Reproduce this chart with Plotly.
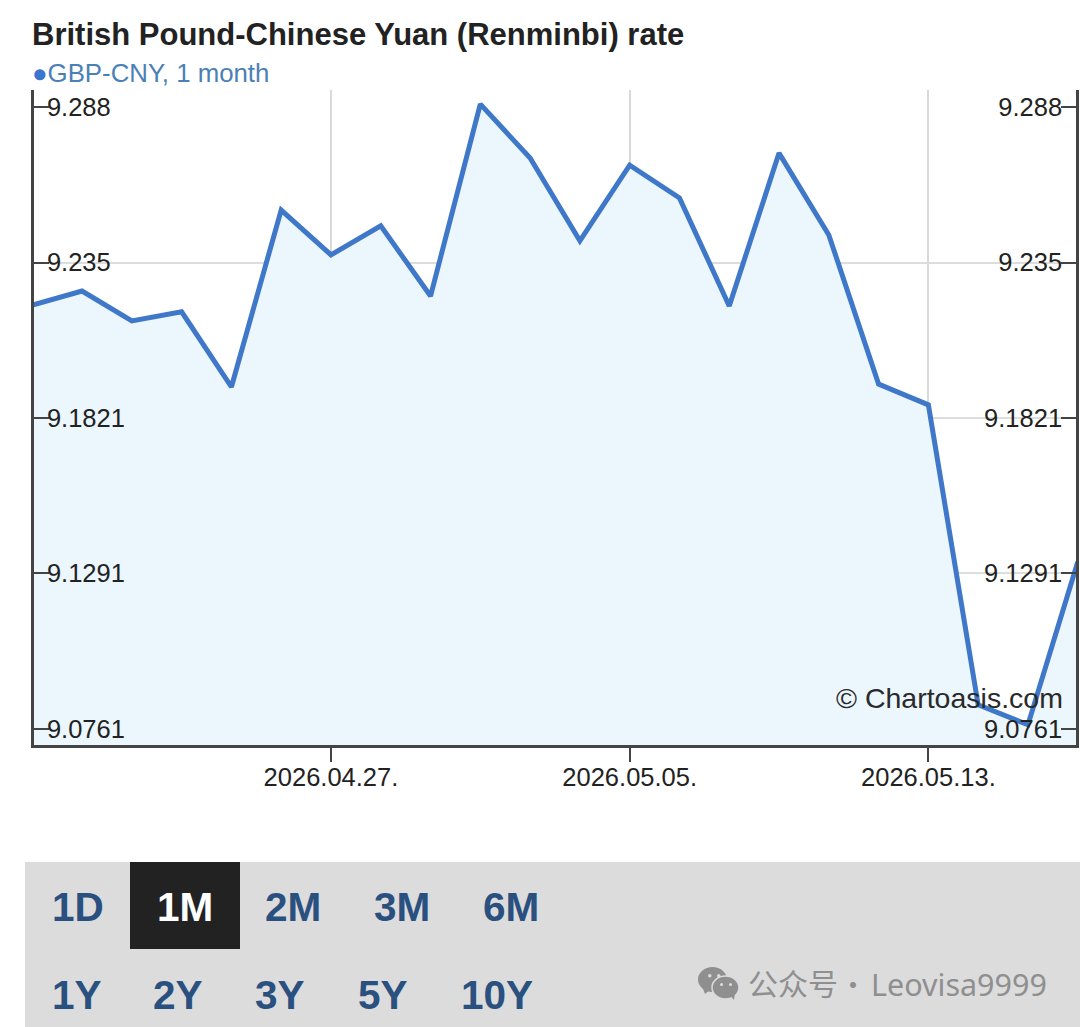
import plotly.graph_objects as go

dates = ["04.17","04.20","04.21","04.22","04.23","04.24","04.27","04.28","04.29","04.30","05.01",
         "05.04","05.05","05.06","05.07","05.08","05.11","05.12","05.13","05.14","05.15","05.18"]
rates = [9.2205,9.2253,9.2151,9.2182,9.1926,9.2529,9.2376,9.2475,9.2236,9.2890,9.2706,
         9.2424,9.2682,9.2570,9.2202,9.2723,9.2444,9.1936,9.1865,9.0843,9.0775,9.1330]
y_ticks = [9.288, 9.235, 9.1821, 9.1291, 9.0761]
y_labels = ["9.288", "9.235", "9.1821", "9.1291", "9.0761"]
grid_ticks = [9.235, 9.1821, 9.1291, 9.0761]
x_ticks = ["04.27", "05.05", "05.13"]
x_labels = ["2026.04.27.", "2026.05.05.", "2026.05.13."]
row1 = ["1D", "1M", "2M", "3M", "6M"]
row2 = ["1Y", "2Y", "3Y", "5Y", "10Y"]

FONT = "Liberation Sans"
CJK = "Noto Sans CJK SC"
L, R, T, B = 34, 1076, 90, 745
Y_RANGE = [9.0706, 9.2938]
def px(x): return (x - L) / (R - L)
def py(y): return (B - y) / (B - T)

fig = go.Figure()
fig.add_trace(go.Scatter(x=dates, y=rates, mode="lines", fill="tozeroy", fillcolor="#ebf6fd",
                         line=dict(color="#3f78c8", width=5, shape="linear"), hoverinfo="skip", showlegend=False))
for axis in ("y2", "y3"):
    fig.add_trace(go.Scatter(x=dates, y=rates, yaxis=axis, mode="lines", opacity=0,
                             line=dict(width=0), hoverinfo="skip", showlegend=False))

tick_font = dict(family=FONT, size=25.5, color="#222222")
common_y = dict(range=Y_RANGE, tickmode="array", tickvals=y_ticks, ticktext=y_labels,
                ticks="inside", ticklen=15, tickwidth=2, tickcolor="#444444",
                ticklabelposition="inside", tickfont=tick_font, showgrid=False,
                showline=True, linecolor="#444444", linewidth=3, zeroline=False)

def text(x, y, s, size, color, bold=False, anchor="left", family=FONT):
    fig.add_annotation(xref="paper", yref="paper", x=px(x), y=py(y), text=f"<b>{s}</b>" if bold else s,
                       showarrow=False, xanchor=anchor, yanchor="middle",
                       font=dict(family=family, size=size, color=color), borderpad=0, borderwidth=0)

def circle(x0, x1, y0, y1, fill, line=None):
    return dict(type="circle", xref="paper", yref="paper", x0=px(x0), x1=px(x1), y0=py(y1), y1=py(y0),
                fillcolor=fill, line=line or dict(width=0))

def tri(pts, fill):
    d = "M " + " L ".join(f"{px(a)} {py(b)}" for a, b in pts) + " Z"
    return dict(type="path", xref="paper", yref="paper", path=d, fillcolor=fill, line=dict(width=0))

PANEL = "#dcdcdc"
ICON = "#8f8f8f"
shapes = [
    dict(type="rect", xref="paper", yref="paper", x0=px(25), x1=px(1085), y0=py(1030), y1=py(862),
         fillcolor=PANEL, line=dict(width=0), layer="below"),
    dict(type="rect", xref="paper", yref="paper", x0=px(130), x1=px(240), y0=py(949), y1=py(862),
         fillcolor="#222222", line=dict(width=0), layer="below"),
    tri([(702, 986), (705, 994), (711, 989)], ICON),
    circle(698, 727, 967, 992, ICON),
    circle(708, 711.5, 974, 977.5, PANEL),
    circle(717, 720.5, 974, 977.5, PANEL),
    circle(712, 739, 976, 999, ICON, dict(color=PANEL, width=1.5)),
    tri([(729, 994), (734, 1000), (735, 992)], ICON),
    circle(720, 723, 983, 986, PANEL),
    circle(729, 732, 983, 986, PANEL),
]
fig.update_layout(
    width=1080, height=1027, autosize=False,
    margin=dict(l=L, r=1080 - R, t=T, b=1027 - B),
    paper_bgcolor="white", plot_bgcolor="white", hovermode=False, showlegend=False,
    shapes=shapes,
    xaxis=dict(type="category", categoryorder="array", categoryarray=dates, range=[0.035, 20.965],
               tickmode="array", tickvals=x_ticks, ticktext=x_labels,
               ticks="outside", ticklen=14, tickwidth=2, tickcolor="#444444", tickfont=tick_font,
               ticklabelstandoff=-7,
               showgrid=True, gridcolor="#d9d9d9", gridwidth=2,
               showline=True, linecolor="#444444", linewidth=3, zeroline=False),
    yaxis=dict(side="left", ticklabelstandoff=0, **common_y),
    yaxis2=dict(side="right", overlaying="y", anchor="x", ticklabelstandoff=1, **common_y),
    yaxis3=dict(side="left", overlaying="y", anchor="x", range=Y_RANGE, tickmode="array", tickvals=grid_ticks,
                showticklabels=False, ticks="", showline=False, zeroline=False,
                showgrid=True, gridcolor="#dddddd", gridwidth=2),
)

text(32, 35, "British Pound-Chinese Yuan (Renminbi) rate", 31, "#222222", bold=True)
text(32, 73, "<span style='color:#3a75d0'>●</span>GBP-CNY, 1 month", 25.8, "#4a80b8")
text(1063, 698, "© Chartoasis.com", 28.5, "#2a2a2a", anchor="right")

row1_x = [78, 185, 293, 402, 511]
row2_x = [77, 178, 280, 383, 497]
for s, x in zip(row1, row1_x):
    text(x, 907, s, 40.5, "#ffffff" if s == "1M" else "#2a5080", bold=True, anchor="center")
for s, x in zip(row2, row2_x):
    text(x, 995, s, 40.5, "#2a5080", bold=True, anchor="center")
text(748, 982, "公众号", 30, ICON, family=CJK)
text(853, 984, "·", 28, ICON, anchor="center", family=CJK)
text(871, 984, "Leovisa9999", 30.5, ICON, family="Noto Sans")

fig.write_html("out.html", config=dict(displayModeBar=False),
               post_script="document.body.style.margin='0';document.documentElement.style.overflow='hidden';")
